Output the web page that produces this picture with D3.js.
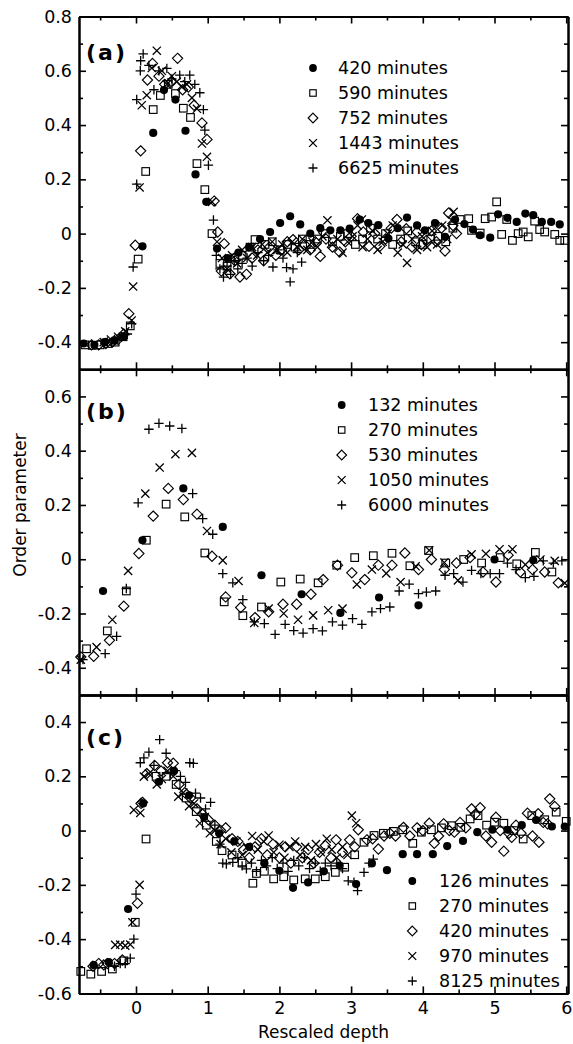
<!DOCTYPE html>
<html><head><meta charset="utf-8">
<script src="https://cdn.jsdelivr.net/npm/d3@7"></script>
<style>
html,body{margin:0;padding:0;background:#fff;}
svg text{font-family:"DejaVu Sans",sans-serif;fill:#000;}
</style></head>
<body>
<svg id="chart" width="573" height="1044"></svg>
<script>
// ---------------- DATA ----------------
const xTickValues = [0,1,2,3,4,5,6];
const xTickLabels = ["0","1","2","3","4","5","6"];
const xMinorTicks = [-0.5,0.5,1.5,2.5,3.5,4.5,5.5];

const panelLetters = ["(a)","(b)","(c)"];
const yTickValuesA = [0.8,0.6,0.4,0.2,0,-0.2,-0.4];
const yTickLabelsA = ["0.8","0.6","0.4","0.2","0","-0.2","-0.4"];
const yTickValuesB = [0.6,0.4,0.2,0,-0.2,-0.4];
const yTickLabelsB = ["0.6","0.4","0.2","0","-0.2","-0.4"];
const yTickValuesC = [0.4,0.2,0,-0.2,-0.4,-0.6];
const yTickLabelsC = ["0.4","0.2","0","-0.2","-0.4","-0.6"];

const legendA = ["420 minutes","590 minutes","752 minutes","1443 minutes","6625 minutes"];
const legendB = ["132 minutes","270 minutes","530 minutes","1050 minutes","6000 minutes"];
const legendC = ["126 minutes","270 minutes","420 minutes","970 minutes","8125 minutes"];

// Panel (a)
const a420 = [[-0.73,-0.405],[-0.58,-0.41],[-0.44,-0.40],[-0.30,-0.395],[-0.17,-0.38],[0.09,-0.047],[0.24,0.371],[0.39,0.529],[0.55,0.494],[0.69,0.379],[0.83,0.218],[0.98,0.117],[1.13,-0.055],[1.28,-0.09],[1.43,-0.07],[1.58,-0.05],[1.73,-0.02],[1.87,0.006],[2.01,0.039],[2.15,0.064],[2.29,0.034],[2.43,0.0],[2.57,0.02],[2.71,0.012],[2.85,0.012],[2.98,0.018],[3.12,0.052],[3.24,0.039],[3.38,0.031],[3.52,-0.018],[3.65,0.02],[3.78,0.059],[3.92,0.03],[4.03,0.012],[4.17,0.039],[4.31,-0.012],[4.45,0.052],[4.58,0.035],[4.70,0.015],[4.80,-0.006],[4.94,-0.015],[5.05,0.071],[5.18,0.058],[5.31,0.043],[5.43,0.074],[5.54,0.068],[5.66,0.043],[5.79,0.043],[5.91,0.034]];
const a590 = [[-0.71,-0.41],[-0.61,-0.412],[-0.50,-0.41],[-0.39,-0.405],[-0.29,-0.40],[-0.18,-0.38],[-0.08,-0.34],[0.03,-0.094],[0.135,0.229],[0.24,0.457],[0.34,0.509],[0.45,0.55],[0.55,0.516],[0.66,0.462],[0.76,0.428],[0.85,0.258],[0.96,0.162],[1.06,0.0],[1.17,-0.11],[1.27,-0.12],[1.38,-0.09],[1.48,-0.08],[1.59,-0.05],[1.66,-0.022],[1.80,-0.04],[1.90,-0.03],[2.01,-0.06],[2.11,-0.04],[2.22,-0.05],[2.32,-0.02],[2.43,-0.04],[2.53,-0.02],[2.64,0.0],[2.74,-0.03],[2.85,-0.01],[2.95,0.0],[3.06,-0.04],[3.16,-0.02],[3.27,0.02],[3.37,-0.02],[3.48,0.0],[3.58,-0.04],[3.69,-0.02],[3.79,0.01],[3.90,-0.03],[4.00,-0.04],[4.11,-0.02],[4.21,-0.01],[4.32,-0.03],[4.42,0.02],[4.52,0.052],[4.64,0.055],[4.68,0.012],[4.80,0.002],[4.87,0.055],[4.96,0.061],[5.03,0.117],[5.10,-0.003],[5.17,0.052],[5.25,-0.025],[5.33,0.0],[5.40,0.006],[5.47,-0.012],[5.56,0.046],[5.63,0.015],[5.70,0.006],[5.84,-0.003],[5.91,-0.025],[5.98,-0.025]];
const a752 = [[-0.62,-0.41],[-0.52,-0.41],[-0.42,-0.405],[-0.33,-0.40],[-0.25,-0.39],[-0.17,-0.37],[-0.10,-0.295],[-0.01,-0.043],[0.065,0.305],[0.16,0.566],[0.23,0.627],[0.32,0.58],[0.40,0.55],[0.49,0.56],[0.58,0.646],[0.65,0.53],[0.73,0.54],[0.81,0.473],[0.92,0.408],[0.99,0.347],[1.09,0.12],[1.14,0.006],[1.19,-0.138],[1.23,-0.037],[1.31,-0.148],[1.38,-0.10],[1.45,-0.16],[1.54,-0.15],[1.62,-0.09],[1.70,-0.06],[1.78,-0.10],[1.86,-0.05],[1.95,-0.08],[2.03,-0.06],[2.11,-0.03],[2.19,-0.022],[2.27,-0.06],[2.35,-0.04],[2.43,-0.06],[2.50,-0.03],[2.57,-0.084],[2.65,-0.02],[2.74,-0.05],[2.84,-0.068],[2.92,-0.03],[3.00,-0.01],[3.09,0.055],[3.17,0.006],[3.25,-0.047],[3.33,0.0],[3.40,-0.047],[3.48,-0.02],[3.56,0.02],[3.64,0.052],[3.70,-0.03],[3.77,0.018],[3.85,-0.05],[3.92,0.006],[3.98,-0.04],[4.05,-0.025],[4.12,0.01],[4.19,-0.03],[4.26,0.02],[4.31,-0.064],[4.36,0.076],[4.42,0.03],[4.47,0.0]];
const a1443 = [[-0.45,-0.40],[-0.35,-0.39],[-0.25,-0.38],[-0.15,-0.36],[-0.06,-0.32],[-0.04,-0.195],[0.05,0.17],[0.08,0.473],[0.15,0.51],[0.22,0.61],[0.29,0.674],[0.36,0.60],[0.43,0.55],[0.50,0.58],[0.57,0.56],[0.64,0.54],[0.71,0.55],[0.78,0.50],[0.85,0.46],[0.92,0.332],[0.99,0.283],[1.06,0.117],[1.13,-0.03],[1.20,-0.09],[1.27,-0.13],[1.34,-0.08],[1.41,-0.11],[1.48,-0.06],[1.55,-0.09],[1.62,-0.05],[1.69,-0.08],[1.76,-0.04],[1.83,-0.07],[1.90,-0.03],[1.97,-0.06],[2.04,-0.04],[2.11,-0.07],[2.18,-0.03],[2.25,-0.05],[2.32,-0.02],[2.39,-0.06],[2.46,-0.03],[2.53,-0.05],[2.60,-0.01],[2.67,0.049],[2.74,-0.04],[2.81,-0.02],[2.88,-0.07],[2.95,-0.03],[3.02,-0.01],[3.09,0.03],[3.15,0.052],[3.16,-0.05],[3.23,-0.02],[3.30,0.01],[3.37,-0.06],[3.44,-0.03],[3.51,0.0],[3.58,0.03],[3.65,-0.07],[3.72,-0.04],[3.78,-0.108],[3.85,-0.02],[3.92,-0.06],[3.99,-0.01],[4.06,-0.05],[4.13,0.01],[4.20,-0.04],[4.27,0.03],[4.34,-0.02],[4.40,0.05],[4.43,0.08]];
const a6625 = [[-0.40,-0.40],[-0.30,-0.39],[-0.20,-0.38],[-0.12,-0.37],[-0.06,-0.332],[-0.04,-0.123],[0.01,0.182],[0.01,0.494],[0.06,0.60],[0.065,0.637],[0.10,0.662],[0.18,0.62],[0.25,0.53],[0.32,0.60],[0.43,0.609],[0.50,0.57],[0.61,0.584],[0.68,0.56],[0.75,0.584],[0.82,0.55],[0.89,0.519],[0.94,0.457],[0.96,0.381],[1.01,0.252],[1.08,0.05],[1.12,-0.08],[1.17,-0.13],[1.22,-0.16],[1.27,-0.12],[1.32,-0.15],[1.37,-0.10],[1.42,-0.13],[1.48,-0.11],[1.55,-0.09],[1.62,-0.12],[1.70,-0.07],[1.78,-0.10],[1.85,-0.08],[1.91,-0.123],[1.98,-0.06],[2.05,-0.09],[2.10,-0.125],[2.15,-0.178],[2.19,-0.13],[2.25,-0.07],[2.31,-0.105]];

// Panel (b)
const b132 = [[-0.46,-0.117],[0.09,0.07],[0.66,0.261],[1.21,0.119],[1.75,-0.059],[2.31,-0.129],[2.85,-0.198],[3.39,-0.141],[3.94,-0.17],[5.0,-0.001],[5.54,-0.004]];
const b270 = [[-0.69,-0.33],[-0.40,-0.264],[-0.135,-0.117],[0.144,0.07],[0.42,0.203],[0.68,0.156],[0.96,0.023],[1.23,-0.157],[1.49,-0.208],[1.75,-0.176],[2.02,-0.084],[2.29,-0.073],[2.54,-0.087],[2.80,-0.022],[3.05,0.006],[3.31,0.013],[3.57,0.022],[3.82,-0.024],[4.08,0.032],[4.32,-0.014],[4.57,-0.001],[4.82,-0.014],[5.08,0.006],[5.31,-0.017],[5.57,0.025],[5.80,-0.047]];
const b530 = [[-0.77,-0.36],[-0.59,-0.358],[-0.37,-0.299],[-0.17,-0.173],[0.04,0.021],[0.24,0.159],[0.45,0.261],[0.66,0.22],[0.85,0.166],[1.06,0.011],[1.25,-0.139],[1.46,-0.178],[1.66,-0.215],[1.85,-0.194],[2.05,-0.166],[2.24,-0.166],[2.44,-0.129],[2.61,-0.075],[2.81,-0.022],[3.01,-0.05],[3.19,-0.075],[3.38,-0.022],[3.57,-0.022],[3.75,0.023],[3.94,-0.038],[4.12,-0.001],[4.30,-0.038],[4.47,-0.014],[4.66,0.006],[4.84,-0.047],[5.02,-0.084],[5.19,0.015],[5.36,-0.047],[5.53,-0.038],[5.70,-0.047],[5.89,-0.087]];
const b1050 = [[-0.77,-0.37],[-0.55,-0.324],[-0.33,-0.223],[-0.11,-0.043],[0.13,0.242],[0.33,0.338],[0.55,0.387],[0.78,0.392],[0.99,0.104],[1.21,-0.004],[1.43,-0.08],[1.65,-0.235],[1.85,-0.182],[2.06,-0.2],[2.26,-0.223],[2.47,-0.207],[2.68,-0.188],[2.88,-0.182],[3.08,-0.093],[3.29,-0.038],[3.49,-0.052],[3.69,-0.084],[3.90,-0.026],[4.09,0.033],[4.30,-0.012],[4.49,-0.078],[4.68,0.018],[4.88,0.02],[5.07,0.037],[5.25,0.037],[5.43,-0.02],[5.64,-0.001],[5.84,-0.006],[5.98,-0.088]];
const b6000 = [[-0.74,-0.37],[-0.43,-0.348],[-0.27,-0.284],[-0.135,-0.108],[0.03,0.208],[0.18,0.479],[0.32,0.501],[0.47,0.491],[0.64,0.482],[0.79,0.242],[0.93,0.15],[1.07,0.092],[1.21,-0.053],[1.35,-0.087],[1.49,-0.149],[1.65,-0.231],[1.79,-0.237],[1.94,-0.277],[2.08,-0.24],[2.20,-0.263],[2.33,-0.272],[2.47,-0.256],[2.60,-0.264],[2.74,-0.231],[2.88,-0.243],[3.02,-0.219],[3.15,-0.24],[3.29,-0.194],[3.41,-0.182],[3.54,-0.176],[3.67,-0.117],[3.81,-0.092],[3.94,-0.127],[4.05,-0.121],[4.18,-0.117],[4.31,-0.059],[4.43,-0.053],[4.56,-0.084],[4.68,-0.041],[4.81,-0.053],[4.94,-0.053],[5.07,-0.053],[5.18,-0.014],[5.30,-0.038],[5.43,-0.068],[5.55,-0.063],[5.68,-0.006],[5.82,-0.014],[5.94,-0.006]];

// Panel (c)
const c126 = [[-0.59,-0.496],[-0.38,-0.485],[-0.11,-0.289],[0.10,0.10],[0.32,0.18],[0.53,0.22],[0.74,0.13],[0.95,0.05],[1.16,-0.01],[1.37,-0.04],[1.58,-0.06],[1.79,-0.12],[2.00,-0.148],[2.19,-0.211],[2.40,-0.191],[2.62,-0.15],[2.84,-0.129],[3.07,-0.197],[3.29,-0.121],[3.50,-0.146],[3.72,-0.087],[3.92,-0.087],[4.14,-0.087],[4.34,-0.057],[4.56,-0.038],[4.76,-0.006],[4.97,0.003],[5.18,0.003],[5.38,0.02],[5.58,0.039],[5.80,0.015],[5.98,0.015]];
const c270 = [[-0.77,-0.519],[-0.63,-0.529],[-0.48,-0.519],[-0.33,-0.51],[-0.17,-0.48],[-0.01,-0.338],[0.14,-0.031],[0.28,0.20],[0.42,0.20],[0.56,0.17],[0.70,0.12],[0.84,0.07],[0.98,0.02],[1.12,-0.04],[1.20,-0.074],[1.34,-0.09],[1.48,-0.12],[1.63,-0.194],[1.68,-0.158],[1.79,-0.15],[1.92,-0.178],[2.06,-0.17],[2.20,-0.182],[2.36,-0.178],[2.50,-0.178],[2.64,-0.17],[2.78,-0.154],[2.91,-0.135],[3.05,-0.089],[3.18,-0.043],[3.32,-0.018],[3.45,-0.01],[3.59,-0.003],[3.72,0.003],[3.86,-0.047],[3.98,-0.006],[4.12,0.003],[4.26,0.01],[4.40,0.018],[4.53,0.012],[4.66,0.043],[4.77,0.055],[4.89,0.02],[5.00,0.031],[5.13,0.027],[5.27,0.0],[5.40,-0.031],[5.52,0.055],[5.70,0.04],[5.86,0.068],[6.00,0.034]];
const c420 = [[-0.60,-0.50],[-0.52,-0.49],[-0.45,-0.495],[-0.40,-0.49],[-0.30,-0.49],[-0.19,-0.477],[0.02,-0.268],[0.07,0.10],[0.09,0.104],[0.15,0.21],[0.26,0.24],[0.35,0.22],[0.44,0.25],[0.52,0.248],[0.60,0.17],[0.68,0.14],[0.76,0.12],[0.85,0.08],[0.93,0.06],[1.01,0.04],[1.10,0.02],[1.18,0.0],[1.25,0.01],[1.34,-0.03],[1.42,-0.04],[1.50,-0.07],[1.58,-0.10],[1.66,-0.06],[1.75,-0.03],[1.83,-0.09],[1.91,-0.05],[2.00,-0.10],[2.08,-0.06],[2.16,-0.12],[2.24,-0.06],[2.32,-0.10],[2.40,-0.07],[2.48,-0.12],[2.56,-0.08],[2.64,-0.055],[2.72,-0.10],[2.79,-0.034],[2.88,-0.08],[2.98,-0.034],[3.05,-0.06],[3.10,0.003],[3.22,-0.034],[3.30,-0.03],[3.38,-0.068],[3.46,-0.02],[3.54,-0.01],[3.62,-0.02],[3.73,0.012],[3.82,-0.02],[3.92,0.01],[4.00,0.0],[4.09,0.027],[4.16,-0.047],[4.22,-0.02],[4.29,0.025],[4.37,0.0],[4.44,-0.006],[4.52,0.03],[4.60,0.01],[4.68,0.08],[4.73,0.06],[4.80,0.084],[4.88,-0.02],[4.96,-0.043],[5.02,0.049],[5.08,0.0],[5.13,-0.076],[5.20,-0.01],[5.24,-0.025],[5.30,0.02],[5.37,-0.01],[5.46,0.064],[5.53,-0.02],[5.62,-0.043],[5.61,0.062],[5.68,0.03],[5.74,0.025],[5.77,0.117],[5.84,0.089]];
const c970 = [[-0.29,-0.421],[-0.22,-0.42],[-0.15,-0.424],[-0.08,-0.42],[-0.05,-0.338],[0.05,-0.20],[-0.03,0.076],[0.06,0.065],[0.11,0.199],[0.18,0.21],[0.29,0.17],[0.36,0.19],[0.44,0.22],[0.52,0.20],[0.59,0.125],[0.66,0.14],[0.74,0.09],[0.81,0.10],[0.89,0.027],[0.96,0.05],[1.03,-0.01],[1.10,0.0],[1.18,-0.05],[1.25,-0.03],[1.33,-0.08],[1.40,-0.04],[1.48,-0.09],[1.55,-0.06],[1.62,-0.02],[1.70,-0.07],[1.78,-0.04],[1.85,-0.018],[1.92,-0.08],[2.00,-0.052],[2.07,-0.10],[2.14,-0.06],[2.22,-0.04],[2.29,-0.09],[2.36,-0.06],[2.44,-0.11],[2.51,-0.05],[2.58,-0.08],[2.66,-0.03],[2.73,-0.07],[2.80,-0.10],[2.88,-0.06],[2.95,-0.09],[3.01,0.055],[3.07,0.027]];
const c8125 = [[-0.30,-0.50],[-0.22,-0.49],[-0.15,-0.49],[-0.08,-0.47],[-0.03,-0.40],[0.00,-0.234],[0.06,0.25],[0.11,0.268],[0.18,0.289],[0.25,0.24],[0.33,0.335],[0.42,0.285],[0.48,0.21],[0.55,0.221],[0.62,0.20],[0.69,0.178],[0.75,0.25],[0.80,0.248],[0.83,0.138],[0.90,0.12],[0.97,0.08],[1.04,0.104],[1.10,0.02],[1.17,-0.05],[1.21,-0.12],[1.26,-0.123],[1.35,-0.117],[1.42,-0.10],[1.48,-0.13],[1.54,-0.141],[1.61,-0.12],[1.68,-0.15],[1.75,-0.11],[1.82,-0.13],[1.90,-0.10],[1.97,-0.14],[2.05,-0.12],[2.12,-0.15],[2.20,-0.11],[2.27,-0.13],[2.35,-0.10],[2.42,-0.14],[2.50,-0.12],[2.57,-0.15],[2.64,-0.12],[2.72,-0.13],[2.80,-0.12],[2.88,-0.14],[2.96,-0.185],[3.04,-0.19],[3.09,-0.221],[3.18,-0.154],[3.25,-0.12],[3.31,-0.105]];

// ---------------- LAYOUT ----------------
const svg = d3.select("#chart");
const L = 79, R = 568;
const x = d3.scaleLinear().domain([-0.795, 6.025]).range([L, R]);

const panels = [
  {top:16.5, bottom:369.3, dom:[-0.5,0.8], ticks:yTickValuesA, labels:yTickLabelsA,
   series:[a420,a590,a752,a1443,a6625], legend:legendA, lx:313, ltx:338, ly:68, letterY:60},
  {top:369.3, bottom:694.9, dom:[-0.5,0.7], ticks:yTickValuesB, labels:yTickLabelsB,
   series:[b132,b270,b530,b1050,b6000], legend:legendB, lx:341.7, ltx:368, ly:405, letterY:419},
  {top:694.9, bottom:993.4, dom:[-0.6,0.5], ticks:yTickValuesC, labels:yTickLabelsC,
   series:[c126,c270,c420,c970,c8125], legend:legendC, lx:412.3, ltx:439, ly:881, letterY:745}
];

function minorY(dom){
  const out=[]; for(let v=Math.round(dom[0]*10)+1; v<Math.round(dom[1]*10); v++){ if(v%2!==0) out.push(v/10); }
  return out;
}

const SW = 1.15;
function marker(g, type, s){
  s = s||1;
  if(type===0){ g.append("circle").attr("r",4.1*s).attr("fill","#000"); }
  else if(type===1){ g.append("rect").attr("x",-3.8*s).attr("y",-3.8*s).attr("width",7.6*s).attr("height",7.6*s).attr("fill","none").attr("stroke","#000").attr("stroke-width",SW); }
  else if(type===2){ const h=5.1*s; g.append("path").attr("d",`M0,${-h}L${h},0L0,${h}L${-h},0Z`).attr("fill","none").attr("stroke","#000").attr("stroke-width",SW); }
  else if(type===3){ const h=4.1*s; g.append("path").attr("d",`M${-h},${-h}L${h},${h}M${-h},${h}L${h},${-h}`).attr("fill","none").attr("stroke","#000").attr("stroke-width",1.3); }
  else { const h=4.7*s; g.append("path").attr("d",`M${-h},0L${h},0M0,${-h}L0,${h}`).attr("fill","none").attr("stroke","#000").attr("stroke-width",1.3); }
}

panels.forEach((p, pi) => {
  const y = d3.scaleLinear().domain(p.dom).range([p.bottom, p.top]);
  const g = svg.append("g");

  // data
  p.series.forEach((ser, si) => {
    ser.forEach(d => {
      const m = g.append("g").attr("transform", `translate(${x(d[0])},${y(d[1])})`);
      marker(m, si, 1);
    });
  });

  // axes
  const styleAxis = sel => { sel.select(".domain").attr("stroke","#000").attr("stroke-width",2);
    sel.selectAll(".tick line").attr("stroke","#000").attr("stroke-width",1.6);
    sel.selectAll("text").attr("font-size","17.5px").attr("font-family","DejaVu Sans, sans-serif"); };

  // left major
  g.append("g").attr("transform",`translate(${L},0)`)
   .call(d3.axisLeft(y).tickValues(p.ticks).tickFormat((d,i)=>p.labels[i]).tickSize(-7).tickSizeOuter(0).tickPadding(7))
   .call(styleAxis);
  g.append("g").attr("transform",`translate(${L},0)`)
   .call(d3.axisLeft(y).tickValues(minorY(p.dom)).tickFormat("").tickSize(-4).tickSizeOuter(0))
   .call(styleAxis);
  // right
  g.append("g").attr("transform",`translate(${R},0)`)
   .call(d3.axisRight(y).tickValues(p.ticks).tickFormat("").tickSize(-7).tickSizeOuter(0))
   .call(styleAxis);
  g.append("g").attr("transform",`translate(${R},0)`)
   .call(d3.axisRight(y).tickValues(minorY(p.dom)).tickFormat("").tickSize(-4).tickSizeOuter(0))
   .call(styleAxis);
  // top
  g.append("g").attr("transform",`translate(0,${p.top})`)
   .call(d3.axisTop(x).tickValues(xTickValues).tickFormat("").tickSize(-7).tickSizeOuter(0))
   .call(styleAxis);
  g.append("g").attr("transform",`translate(0,${p.top})`)
   .call(d3.axisTop(x).tickValues(xMinorTicks).tickFormat("").tickSize(-4).tickSizeOuter(0))
   .call(styleAxis);
  // bottom
  g.append("g").attr("transform",`translate(0,${p.bottom})`)
   .call(d3.axisBottom(x).tickValues(xTickValues).tickFormat(pi===2 ? ((d,i)=>xTickLabels[i]) : "").tickSize(-7).tickSizeOuter(0).tickPadding(8))
   .call(styleAxis);
  g.append("g").attr("transform",`translate(0,${p.bottom})`)
   .call(d3.axisBottom(x).tickValues(xMinorTicks).tickFormat("").tickSize(-4).tickSizeOuter(0))
   .call(styleAxis);

  // panel letter
  g.append("text").attr("x",86).attr("y",p.letterY)
   .attr("font-size","22px").attr("font-weight","bold").attr("letter-spacing","2px")
   .text(panelLetters[pi]);

  // legend
  p.legend.forEach((lab, li) => {
    const cy = p.ly + li*25;
    const m = g.append("g").attr("transform",`translate(${p.lx},${cy})`);
    marker(m, li, li===1 ? 0.85 : 0.95);
    g.append("text").attr("x",p.ltx).attr("y",cy+6.3).attr("font-size","17.5px").text(lab);
  });
});

// axis titles
svg.append("text").attr("x",(L+R)/2).attr("y",1038).attr("text-anchor","middle")
   .attr("font-size","17px").text("Rescaled depth");
svg.append("text").attr("transform","translate(26,505) rotate(-90)").attr("text-anchor","middle")
   .attr("font-size","17px").text("Order parameter");
</script>
</body></html>
